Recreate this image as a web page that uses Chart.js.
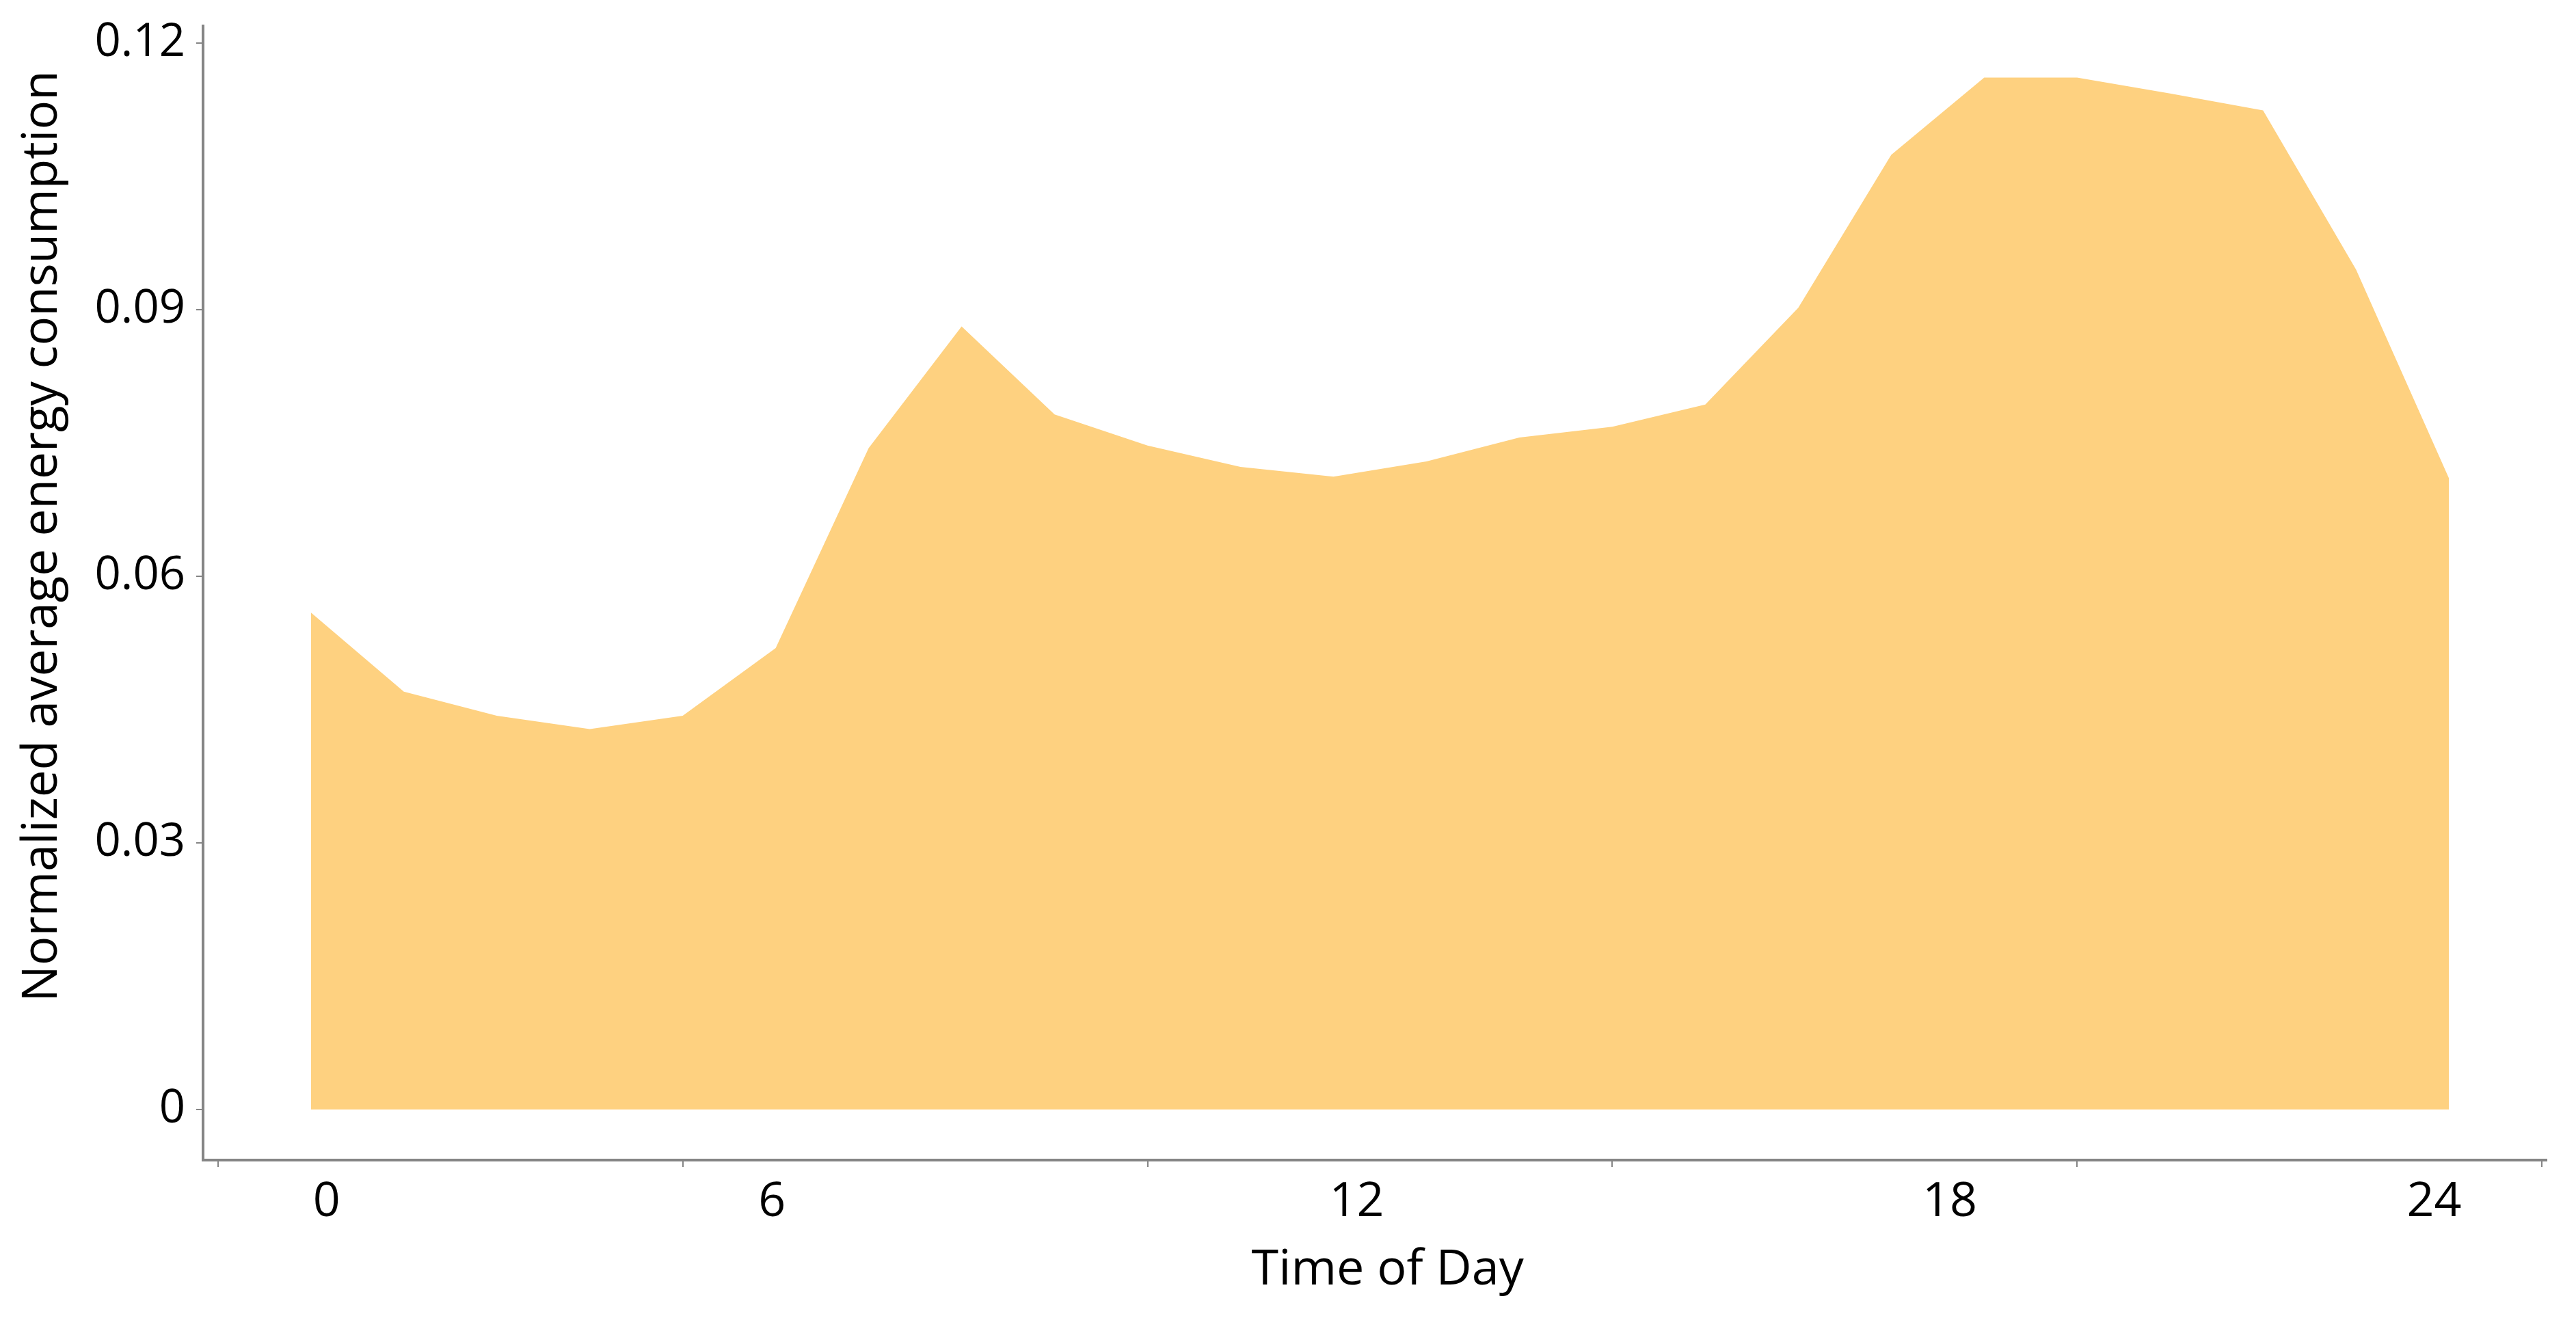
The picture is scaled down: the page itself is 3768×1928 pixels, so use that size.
<!DOCTYPE html>
<html>
<head>
<meta charset="utf-8">
<script src="https://cdn.jsdelivr.net/npm/chart.js@4/dist/chart.umd.min.js"></script>
<style>
  html, body { margin: 0; padding: 0; background: #fff; }
  canvas { display: block; }
</style>
</head>
<body>
<canvas id="areaChart" width="3768" height="1928"></canvas>
<script>
// hourly points
var hours = [0, 1, 2, 3, 4, 5, 6, 7, 8, 9, 10, 11, 12, 13, 14, 15, 16, 17, 18, 19, 20, 21, 22, 23];
var energy = [0.0559, 0.0470, 0.0443, 0.0428, 0.0443, 0.0519, 0.0744, 0.0881, 0.0782, 0.0747,
              0.0723, 0.0712, 0.0729, 0.0756, 0.0768, 0.0793, 0.0902, 0.1074, 0.1161, 0.1161,
              0.1143, 0.1124, 0.0945, 0.0710];
var yTicks = [0, 0.03, 0.06, 0.09, 0.12];
var xTickLabels = ['0', '6', '12', '18', '24'];

// where the hour labels sit along the axis (they are not evenly placed in the source)
var xLabelAt = [0.17, 4.96, 11.25, 17.63, 22.84];
var xTickMarks = [-1, 4, 9, 14, 19, 24];
var xMin = -1.16, xMax = 24.05;

var axisGrey = '#858585';
var fontFam = '"Open Sans", "DejaVu Sans", sans-serif';

// leading nbsp's nudge the rotated y title upward, like the source
var yTitle = '\u00a0'.repeat(9) + 'Normalized average energy consumption';

function noPad(scale) {
    scale.paddingTop = 0;
    scale.paddingBottom = 0;
    scale.paddingLeft = 0;
    scale.paddingRight = 0;
}

function generateArea() {
    var canvas = document.getElementById('areaChart');

    var data = {
        datasets: [{
            data: hours.map(function (h, i) { return {x: h, y: energy[i]}; }),
            backgroundColor: 'rgb(254, 209, 128)',
            borderWidth: 0,
            pointRadius: 0,
            fill: 'origin',
            tension: 0
        }]
    };

    var options = {
        responsive: false,
        animation: false,
        layout: {padding: {top: 38, right: 43, left: 0, bottom: 0}},
        plugins: {legend: {display: false}, tooltip: {enabled: false}},
        scales: {
            x: {
                type: 'linear',
                min: xMin,
                max: xMax,
                weight: 0,
                afterBuildTicks: function (scale) {
                    scale.ticks = xTickMarks.map(function (v) { return {value: v}; });
                },
                afterFit: function (scale) { scale.height = 12; noPad(scale); },
                ticks: {display: false},
                grid: {display: true, drawOnChartArea: false, tickLength: 10, color: axisGrey, lineWidth: 2},
                border: {display: true, color: axisGrey, width: 4}
            },
            x2: {
                type: 'linear',
                position: 'bottom',
                axis: 'x',
                min: xMin,
                max: xMax,
                weight: 1,
                afterBuildTicks: function (scale) {
                    scale.ticks = xLabelAt.map(function (v) { return {value: v}; });
                },
                afterFit: function (scale) { scale.height = 219; noPad(scale); },
                ticks: {
                    autoSkip: false,
                    maxRotation: 0,
                    padding: 8,
                    color: '#000',
                    font: {family: fontFam, size: 70},
                    callback: function (v, i) { return xTickLabels[i]; }
                },
                grid: {display: false, drawTicks: false},
                border: {display: false},
                title: {
                    display: true,
                    text: '\u00a0\u00a0Time of Day',
                    color: '#000',
                    font: {family: fontFam, size: 72},
                    padding: {top: 0, bottom: 26}
                }
            },
            y: {
                min: -0.0057,
                max: 0.1219,
                afterBuildTicks: function (scale) {
                    scale.ticks = yTicks.map(function (v) { return {value: v}; });
                },
                afterFit: function (scale) { scale.width = 297; noPad(scale); },
                ticks: {
                    padding: 16,
                    color: '#000',
                    font: {family: fontFam, size: 67},
                    callback: function (v) { return v === 0 ? '0' : v.toFixed(2); }
                },
                grid: {display: true, drawOnChartArea: false, tickLength: 10, color: axisGrey, lineWidth: 2},
                border: {display: true, color: axisGrey, width: 4},
                title: {
                    display: true,
                    text: yTitle,
                    color: '#000',
                    font: {family: fontFam, size: 71},
                    padding: {top: 20, bottom: 0}
                }
            }
        }
    };

    var myAreaChart = new Chart(canvas, {
        type: 'line',
        data: data,
        options: options
    });
}

generateArea();
</script>
</body>
</html>
